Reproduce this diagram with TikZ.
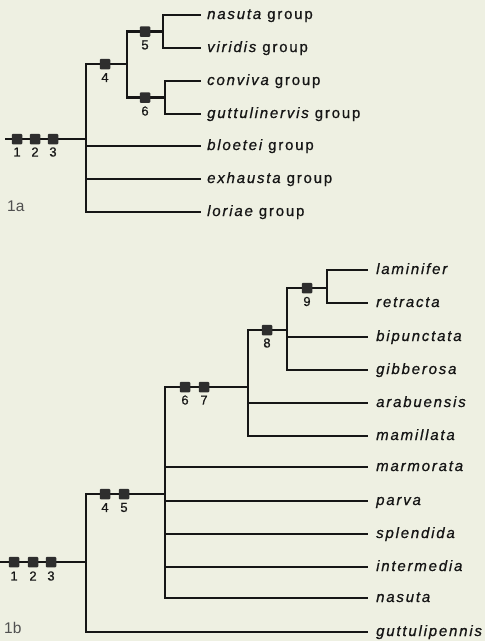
\documentclass[tikz,border=0pt]{standalone}
\usepackage{fontspec}
\setmainfont{Liberation Sans}
\newfontfamily\spfont[LetterSpace=12,FakeBold=0.8]{Liberation Sans}
\newfontfamily\numfont[FakeBold=0.6]{Liberation Sans}
\definecolor{bg}{HTML}{EEF0E2}
\definecolor{ink}{HTML}{161616}
\definecolor{sqc}{HTML}{2E2E2E}
\begin{document}
\begin{tikzpicture}[x=1pt,y=-1pt,
  br/.style={draw=ink,line width=2.8pt},
  charbox/.style={draw=none,fill=sqc,minimum size=10.5pt,inner sep=0pt,rounded corners=1pt},
  num/.style={font=\numfont\fontsize{13}{15}\selectfont,text=ink,inner sep=0pt},
  taxon/.style={anchor=base west,inner sep=0pt,font=\spfont\fontsize{15}{18}\selectfont,text=ink},
  figlab/.style={anchor=base west,inner sep=0pt,font=\fontsize{15.5}{18}\selectfont,text=ink!75}]
\fill[bg] (0,0) rectangle (485,641);
\useasboundingbox (0,0) rectangle (485,641);

% ---------- Figure 1a ----------
\coordinate (aS) at (5,139);
\coordinate (aR) at (86,139);
\coordinate (a4) at (127,64);
\coordinate (a5) at (163,31.5);
\coordinate (a6) at (165,97.5);
\coordinate (la1) at (201,15);
\coordinate (la2) at (201,48);
\coordinate (la3) at (201,81);
\coordinate (la4) at (201,114);
\coordinate (la5) at (201,146);
\coordinate (la6) at (201,179);
\coordinate (la7) at (201,212);

\draw[br] (aS) -- (aR);
\draw[br] (aR) |- (a4);
\draw[br] (a4) |- (a5);
\draw[br] (a4) |- (a6);
\draw[br] (a5) |- (la1);
\draw[br] (a5) |- (la2);
\draw[br] (a6) |- (la3);
\draw[br] (a6) |- (la4);
\draw[br] (aR) |- (la5);
\draw[br] (aR) |- (la6);
\draw[br] (aR) |- (la7);

\node[charbox] (ca1) at (17,139) {};
\node[charbox] (ca2) at (35,139) {};
\node[charbox] (ca3) at (53,139) {};
\node[charbox] (ca4) at (105,64) {};
\node[charbox] (ca5) at (145,31.5) {};
\node[charbox] (ca6) at (145,97.5) {};
\node[num] (na1) at (17,152) {1};
\node[num] (na2) at (35,152) {2};
\node[num] (na3) at (53,152) {3};
\node[num] (na4) at (105,77.5) {4};
\node[num] (na5) at (145,45) {5};
\node[num] (na6) at (145,111) {6};

\node[taxon] (ta1) at (207,19) {{\itshape nasuta} group};
\node[taxon] (ta2) at (207,52) {{\itshape viridis} group};
\node[taxon] (ta3) at (207,85) {{\itshape conviva} group};
\node[taxon] (ta4) at (207,118) {{\itshape guttulinervis} group};
\node[taxon] (ta5) at (207,150) {{\itshape bloetei} group};
\node[taxon] (ta6) at (207,183) {{\itshape exhausta} group};
\node[taxon] (ta7) at (207,216) {{\itshape loriae} group};
\node[figlab] (fa) at (7,211) {1a};

% ---------- Figure 1b ----------
\coordinate (bS) at (0,562);
\coordinate (bR) at (86,562);
\coordinate (b45) at (165,494);
\coordinate (b67) at (248,387);
\coordinate (b8) at (287,330);
\coordinate (b9) at (327,288);
\coordinate (lb1) at (368,270);
\coordinate (lb2) at (368,303);
\coordinate (lb3) at (368,337);
\coordinate (lb4) at (368,370);
\coordinate (lb5) at (368,403);
\coordinate (lb6) at (368,436);
\coordinate (lb7) at (368,467);
\coordinate (lb8) at (368,501);
\coordinate (lb9) at (368,534);
\coordinate (lb10) at (368,567);
\coordinate (lb11) at (368,598);
\coordinate (lb12) at (368,632);

\draw[br] (bS) -- (bR);
\draw[br] (bR) |- (b45);
\draw[br] (bR) |- (lb12);
\draw[br] (b45) |- (b67);
\draw[br] (b45) |- (lb7);
\draw[br] (b45) |- (lb8);
\draw[br] (b45) |- (lb9);
\draw[br] (b45) |- (lb10);
\draw[br] (b45) |- (lb11);
\draw[br] (b67) |- (b8);
\draw[br] (b67) |- (lb5);
\draw[br] (b67) |- (lb6);
\draw[br] (b8) |- (b9);
\draw[br] (b8) |- (lb3);
\draw[br] (b8) |- (lb4);
\draw[br] (b9) |- (lb1);
\draw[br] (b9) |- (lb2);

\node[charbox] (cb1) at (14,562) {};
\node[charbox] (cb2) at (33,562) {};
\node[charbox] (cb3) at (51,562) {};
\node[charbox] (cb4) at (105,494) {};
\node[charbox] (cb5) at (124,494) {};
\node[charbox] (cb6) at (185,387) {};
\node[charbox] (cb7) at (204,387) {};
\node[charbox] (cb8) at (267,330) {};
\node[charbox] (cb9) at (307,288) {};
\node[num] (nb1) at (14,576) {1};
\node[num] (nb2) at (33,576) {2};
\node[num] (nb3) at (51,576) {3};
\node[num] (nb4) at (105,507.5) {4};
\node[num] (nb5) at (124,507.5) {5};
\node[num] (nb6) at (185,400) {6};
\node[num] (nb7) at (204,400) {7};
\node[num] (nb8) at (267,343) {8};
\node[num] (nb9) at (307,301.5) {9};

\node[taxon] (tb1) at (376,274) {\itshape laminifer};
\node[taxon] (tb2) at (376,307) {\itshape retracta};
\node[taxon] (tb3) at (376,341) {\itshape bipunctata};
\node[taxon] (tb4) at (376,374) {\itshape gibberosa};
\node[taxon] (tb5) at (376,407) {\itshape arabuensis};
\node[taxon] (tb6) at (376,440) {\itshape mamillata};
\node[taxon] (tb7) at (376,471) {\itshape marmorata};
\node[taxon] (tb8) at (376,505) {\itshape parva};
\node[taxon] (tb9) at (376,538) {\itshape splendida};
\node[taxon] (tb10) at (376,571) {\itshape intermedia};
\node[taxon] (tb11) at (376,602) {\itshape nasuta};
\node[taxon] (tb12) at (376,636) {\itshape guttulipennis};
\node[figlab] (fb) at (4,633) {1b};
\end{tikzpicture}
\end{document}
